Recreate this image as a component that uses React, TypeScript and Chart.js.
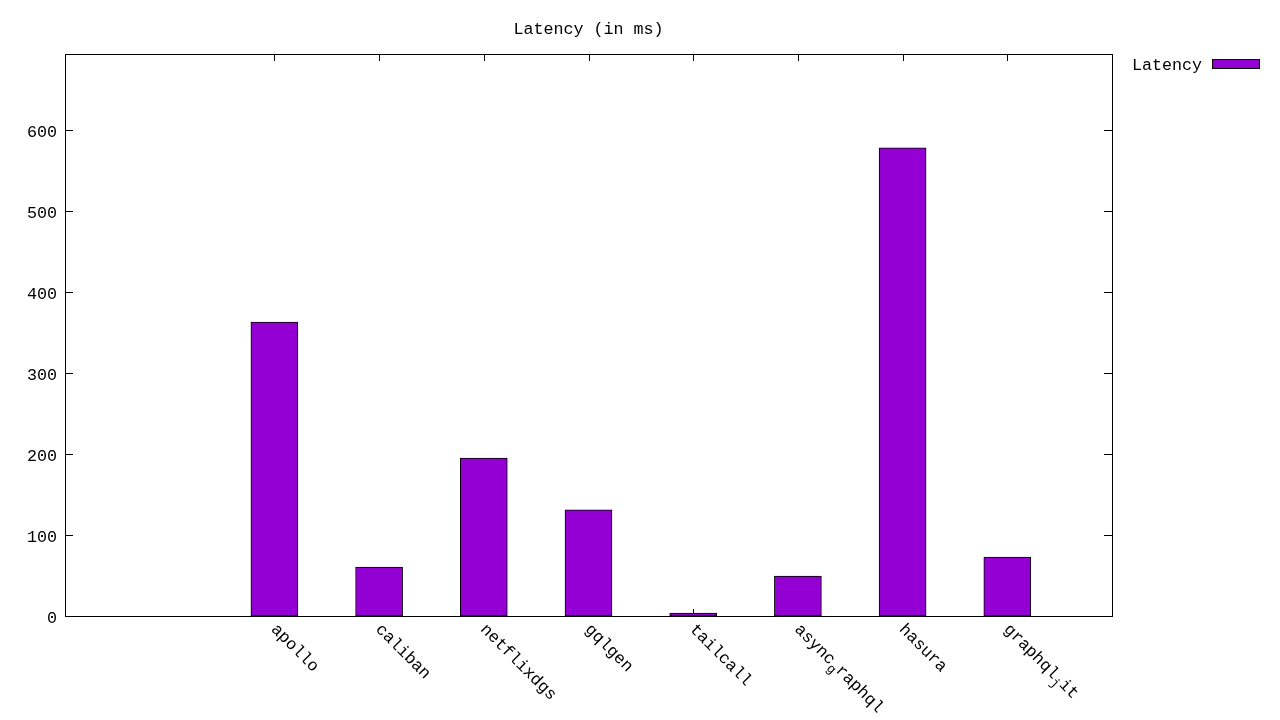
import { useEffect, useRef } from 'react';
import { Chart, registerables } from 'chart.js';

Chart.register(...registerables);

const categories = ['apollo', 'caliban', 'netflixdgs', 'gqlgen', 'tailcall', 'async_graphql', 'hasura', 'graphql_jit'];
const latency = [363, 60.5, 195, 131, 3.7, 49.4, 578, 72.8];
const yTicks = [0, 100, 200, 300, 400, 500, 600];
const titleText = 'Latency (in ms)';
const seriesName = 'Latency';

const X_MIN = -2;
const X_MAX = 8;
const Y_MAX = 694;

const FONT = '"Liberation Mono", "Courier New", monospace';
const FS = 16.7;
const BAR_COLOR = '#9400D3';

function drawEnhanced(ctx: CanvasRenderingContext2D, text: string) {
  // gnuplot enhanced text: "_" makes the next character a subscript
  const parts = text.split('_');
  let x = 0;
  parts.forEach((part, idx) => {
    let rest = part;
    if (idx > 0 && part.length > 0) {
      const sub = part[0];
      rest = part.slice(1);
      ctx.font = `${FS * 0.8}px ${FONT}`;
      ctx.fillText(sub, x, FS * 0.3);
      x += ctx.measureText(sub).width;
    }
    ctx.font = `${FS}px ${FONT}`;
    ctx.fillText(rest, x, 0);
    x += ctx.measureText(rest).width;
  });
}

const gnuplotFrame = {
  id: 'gnuplotFrame',
  beforeDatasetsDraw(chart: any) {
    const ctx = chart.ctx as CanvasRenderingContext2D;
    const { left, right, top, bottom } = chart.chartArea;
    const xs = chart.scales.x;
    const ys = chart.scales.y;
    ctx.save();
    ctx.strokeStyle = '#000';
    ctx.lineWidth = 1;
    ctx.beginPath();
    yTicks.forEach((v) => {
      const y = Math.round(ys.getPixelForValue(v)) + 0.5;
      ctx.moveTo(left, y);
      ctx.lineTo(left + 8, y);
      ctx.moveTo(right, y);
      ctx.lineTo(right - 8, y);
    });
    categories.forEach((_, i) => {
      const x = Math.round(xs.getPixelForValue(i)) + 0.5;
      ctx.moveTo(x, bottom);
      ctx.lineTo(x, bottom - 7);
      ctx.moveTo(x, top);
      ctx.lineTo(x, top + 7);
    });
    ctx.stroke();
    ctx.restore();
  },
  afterDraw(chart: any) {
    const ctx = chart.ctx as CanvasRenderingContext2D;
    const { left, right, top, bottom } = chart.chartArea;
    const xs = chart.scales.x;
    const ys = chart.scales.y;
    ctx.save();
    ctx.strokeStyle = '#000';
    ctx.lineWidth = 1;
    ctx.strokeRect(Math.round(left) + 0.5, Math.round(top) + 0.5, Math.round(right) - Math.round(left), Math.round(bottom) - Math.round(top));

    ctx.fillStyle = '#000';
    ctx.font = `${FS}px ${FONT}`;
    ctx.textBaseline = 'alphabetic';

    // y tick labels
    ctx.textAlign = 'right';
    yTicks.forEach((v) => {
      const y = ys.getPixelForValue(v);
      ctx.fillText(String(v), left - 8, y + 7);
    });

    // x tick labels, rotated
    ctx.textAlign = 'left';
    categories.forEach((c, i) => {
      const x = xs.getPixelForValue(i);
      ctx.save();
      ctx.translate(x - 4, bottom + 14);
      ctx.rotate(Math.PI / 4);
      drawEnhanced(ctx, c);
      ctx.restore();
    });

    // title
    ctx.font = `${FS}px ${FONT}`;
    ctx.textAlign = 'center';
    ctx.fillText(titleText, (left + right) / 2, 34);

    // legend
    ctx.textAlign = 'right';
    ctx.fillText(seriesName, 1202, 70);
    ctx.fillStyle = BAR_COLOR;
    ctx.fillRect(1212.5, 59.5, 47, 9);
    ctx.strokeRect(1212.5, 59.5, 47, 9);
    ctx.restore();
  },
};

export default function App() {
  const canvasRef = useRef<HTMLCanvasElement | null>(null);

  useEffect(() => {
    const canvas = canvasRef.current;
    if (!canvas) return;
    const chart = new Chart(canvas, {
      type: 'bar',
      data: {
        datasets: [
          {
            label: seriesName,
            data: categories.map((_, i) => ({ x: i, y: latency[i] })),
            backgroundColor: BAR_COLOR,
            borderColor: '#000',
            borderWidth: 1,
            borderSkipped: false,
            barThickness: 47,
          } as any,
        ],
      },
      options: {
        responsive: false,
        animation: false,
        devicePixelRatio: 1,
        layout: { padding: { left: 65, top: 54, right: 168, bottom: 104 } },
        scales: {
          x: { type: 'linear', min: X_MIN, max: X_MAX, offset: false, display: false },
          y: { type: 'linear', min: 0, max: Y_MAX, display: false },
        },
        plugins: {
          legend: { display: false },
          title: { display: false },
          tooltip: { enabled: false },
        },
      },
      plugins: [gnuplotFrame],
    });
    return () => chart.destroy();
  }, []);

  return (
    <div style={{ position: 'fixed', left: 0, top: 0, width: 1280, height: 720, background: '#fff' }}>
      <canvas ref={canvasRef} width={1280} height={720} style={{ display: 'block' }} />
    </div>
  );
}
